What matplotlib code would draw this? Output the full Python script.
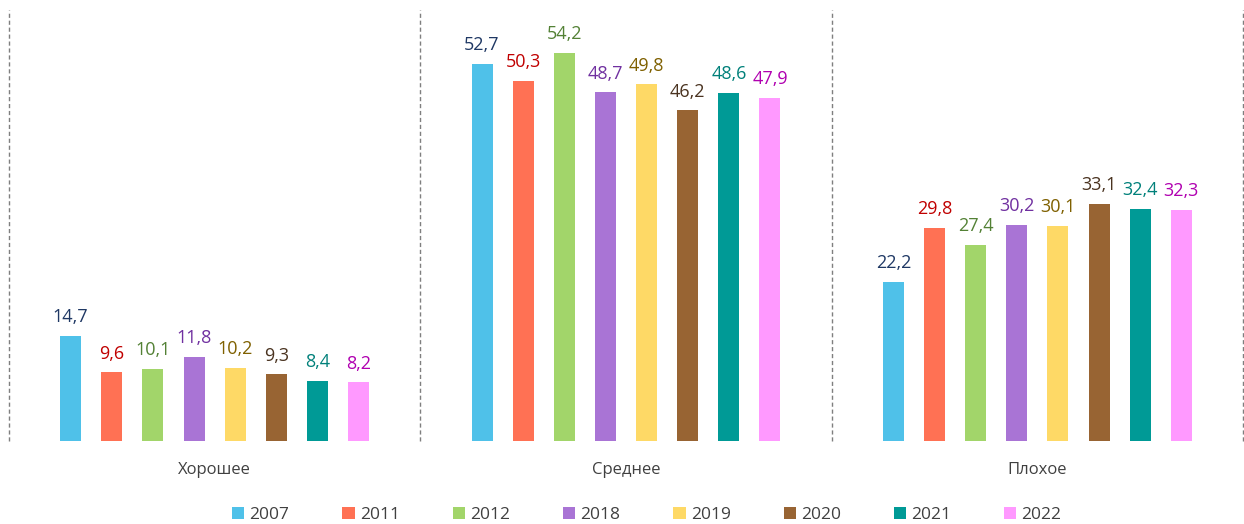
import matplotlib
matplotlib.use("Agg")
import matplotlib.pyplot as plt
import numpy as np

categories = ["Хорошее", "Среднее", "Плохое"]
years = ["2007", "2011", "2012", "2018", "2019", "2020", "2021", "2022"]
v2007 = [14.7, 52.7, 22.2]
v2011 = [9.6, 50.3, 29.8]
v2012 = [10.1, 54.2, 27.4]
v2018 = [11.8, 48.7, 30.2]
v2019 = [10.2, 49.8, 30.1]
v2020 = [9.3, 46.2, 33.1]
v2021 = [8.4, 48.6, 32.4]
v2022 = [8.2, 47.9, 32.3]
series = [v2007, v2011, v2012, v2018, v2019, v2020, v2021, v2022]

bar_colors = ["#4FC1E9", "#FF7154", "#A2D56A", "#A974D5", "#FED966", "#986433", "#009A96", "#FF99FF"]
label_colors = ["#1F3864", "#C00000", "#538135", "#7030A0", "#7F6000", "#4A3320", "#00807A", "#B000B0"]

plt.rcParams['font.family'] = ['Open Sans', 'DejaVu Sans']

fig = plt.figure(figsize=(12.44, 5.24), dpi=100)
W, H = 1244, 524
ax = fig.add_axes([9 / W, (H - 441) / H, 1234 / W, 431 / H])
ax.set_xlim(-0.5, 2.5)
ax.set_ylim(0, 60.2)

x = np.arange(len(categories))
bw = 0.051
for i, (vals, bc, lc, yr) in enumerate(zip(series, bar_colors, label_colors, years)):
    xs = x + (i - 3.5) * 0.1
    ax.bar(xs, vals, width=bw, color=bc, label=yr)
    for xx, v in zip(xs, vals):
        ax.annotate(f"{v:.1f}".replace(".", ","), (xx, v), xytext=(0, 7),
                    textcoords="offset points", ha="center", va="bottom",
                    fontsize=13, color=lc)

for b in [-0.5, 0.5, 1.5, 2.5]:
    ax.axvline(b, ymin=0, ymax=1, color="#7F7F7F", linestyle=(0, (3, 2)), linewidth=1.0, clip_on=False)

for s in ax.spines.values():
    s.set_visible(False)
ax.set_xticks([])
ax.set_yticks([])

for xi, c in zip(x, categories):
    ax.text(xi, -4.1, c, ha="center", va="center", fontsize=12, color="#404040")

handles, labels = ax.get_legend_handles_labels()
leg = fig.legend(handles, labels, loc="center", bbox_to_anchor=(0.52, (H - 515) / H), ncol=8,
                 frameon=False, handlelength=0.7, handleheight=0.7, handletextpad=0.3,
                 columnspacing=3.05, fontsize=12.5)
for t in leg.get_texts():
    t.set_color("#404040")

fig.savefig("out.png", dpi=100)
